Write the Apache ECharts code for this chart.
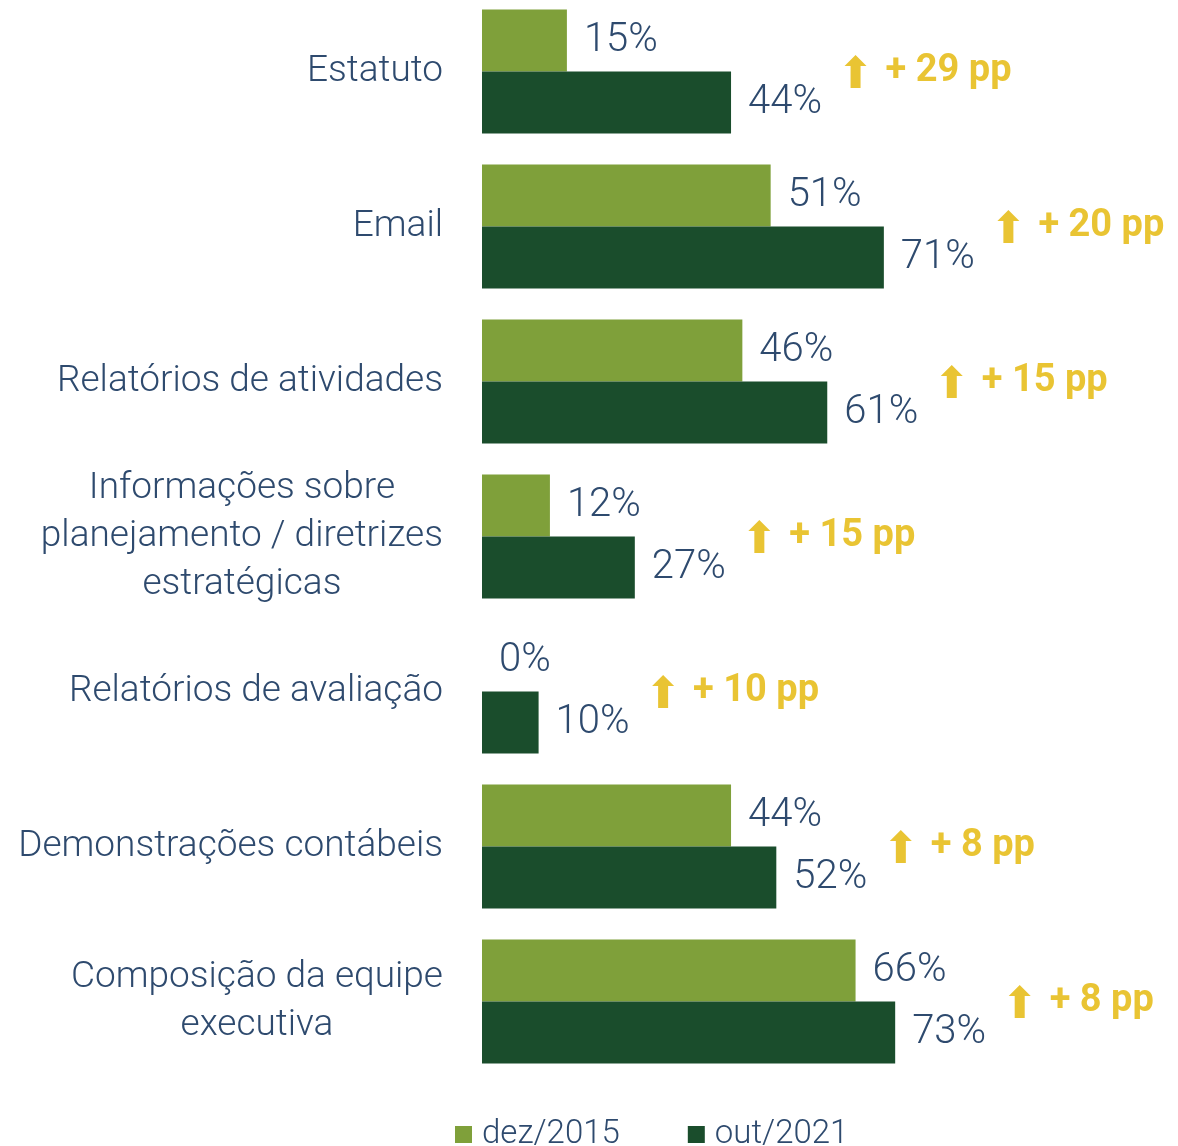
<!DOCTYPE html>
<html>
<head>
<meta charset="utf-8">
<script src="https://cdn.jsdelivr.net/npm/echarts@6/dist/echarts.min.js"></script>
<style>
  html, body { margin: 0; padding: 0; background: #fff; }
  #chart { width: 1178px; height: 1146px; }
</style>
</head>
<body>
<div id="chart"></div>
<script>
// categorias (de cima para baixo)
const categories = [
    'Estatuto',
    'Email',
    'Relatórios de atividades',
    'Informações sobre\nplanejamento / diretrizes\nestratégicas',
    'Relatórios de avaliação',
    'Demonstrações contábeis',
    'Composição da equipe\nexecutiva'
]
const seriesNames = ['dez/2015', 'out/2021']
const dez2015 = [15, 51, 46, 12, 0, 44, 66]
const out2021 = [44, 71, 61, 27, 10, 52, 73]
// variação em pontos percentuais, como publicada
const deltaPp = [29, 20, 15, 15, 10, 8, 8]

const TEXT = '#2e4a6e'
const LIGHT = '#7fa03a'
const DARK = '#1a4d2c'
const GOLD = '#e3b500'
const FONT = 'Roboto'
const ARROW_GAP = 22 // distância (em pp) entre a barra e a seta

const arrowPath = 'path://M11,0 L22,11 L16,11 L16,33 L6,33 L6,11 L0,11 Z'

const valueLabel = {
    show: true,
    position: 'right',
    distance: 17,
    formatter: p => p.value + '%',
    color: TEXT,
    fontFamily: FONT,
    fontWeight: 300,
    fontSize: 40
}

// pontos das anotações "+ N pp"
const deltas = out2021.map((v, i) => [Math.max(v, dez2015[i]) + ARROW_GAP, i, deltaPp[i]])

const chart = echarts.init(document.getElementById('chart'))
chart.setOption({
    backgroundColor: '#fff',
    animation: false,
    grid: {
        left: 482, top: -6, width: 566, height: 1085,
        containLabel: false,
        outerBoundsMode: 'none'
    },
    xAxis: {
        type: 'value',
        min: 0,
        max: 100,
        show: false,
        splitLine: { show: false }
    },
    yAxis: {
        type: 'category',
        inverse: true,
        data: categories,
        axisLine: { show: false },
        axisTick: { show: false },
        axisLabel: {
            margin: 39,
            formatter: v => v.split('\n').map(l => '{c|' + l + '}').join('\n'),
            rich: {
                c: {
                    align: 'center',
                    color: TEXT,
                    fontFamily: FONT,
                    fontWeight: 300,
                    fontSize: 37,
                    lineHeight: 48
                }
            }
        }
    },
    legend: {
        data: seriesNames,
        left: 450,
        top: 1113,
        icon: 'rect',
        itemWidth: 17,
        itemHeight: 17,
        itemGap: 68,
        textStyle: {
            color: TEXT,
            fontFamily: FONT,
            fontWeight: 300,
            fontSize: 33,
            padding: [0, 0, 0, 5]
        }
    },
    series: [
        {
            name: seriesNames[0],
            type: 'bar',
            data: dez2015,
            barGap: '0%',
            barCategoryGap: '20%',
            itemStyle: { color: LIGHT },
            label: valueLabel
        },
        {
            name: seriesNames[1],
            type: 'bar',
            data: out2021,
            itemStyle: { color: DARK },
            label: valueLabel
        },
        {
            name: 'delta',
            type: 'scatter',
            data: deltas,
            symbol: arrowPath,
            symbolSize: [22, 33],
            itemStyle: { color: GOLD },
            silent: true,
            label: {
                show: true,
                position: 'right',
                distance: 19,
                formatter: p => '+ ' + p.value[2] + ' pp',
                color: GOLD,
                fontFamily: FONT,
                fontWeight: 'bold',
                fontSize: 38
            }
        }
    ]
})
</script>
</body>
</html>
